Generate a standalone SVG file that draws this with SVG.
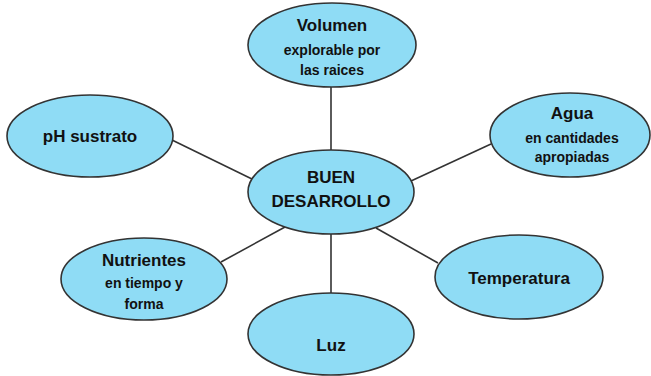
<svg xmlns="http://www.w3.org/2000/svg" width="651" height="376" viewBox="0 0 651 376">
<style>
.n{fill:#8fdcf5;stroke:#333;stroke-width:1.6}
.c{stroke:#333;stroke-width:1.6;fill:none}
text{font-family:"Liberation Sans",Arial,sans-serif;font-weight:bold;fill:#111;text-anchor:middle}
.t{font-size:17px}
.s{font-size:14px}
</style>
<rect width="651" height="376" fill="#fff"/>
<g id="connectors">
<line class="c" x1="331" y1="87" x2="331" y2="150"/>
<line class="c" x1="331" y1="234" x2="331" y2="293"/>
<line class="c" x1="172" y1="140" x2="254" y2="180"/>
<line class="c" x1="491" y1="144" x2="411" y2="181"/>
<line class="c" x1="221" y1="262" x2="285" y2="227"/>
<line class="c" x1="438" y1="263" x2="376" y2="228"/>
</g>
<g id="volumen">
<ellipse class="n" cx="332" cy="45" rx="84" ry="42"/>
<text class="t" x="332" y="31">Volumen</text>
<text class="s" x="332" y="55">explorable por</text>
<text class="s" x="332" y="75">las raices</text>
</g>
<g id="ph">
<ellipse class="n" cx="90" cy="136" rx="83" ry="41"/>
<text class="t" x="90" y="142">pH sustrato</text>
</g>
<g id="agua">
<ellipse class="n" cx="570" cy="135" rx="80" ry="42"/>
<text class="t" x="572" y="119">Agua</text>
<text class="s" x="572" y="143">en cantidades</text>
<text class="s" x="572" y="162">apropiadas</text>
</g>
<g id="centro">
<ellipse class="n" cx="331" cy="192" rx="83" ry="42"/>
<text class="t" x="331" y="183">BUEN</text>
<text class="t" x="331" y="207">DESARROLLO</text>
</g>
<g id="nutrientes">
<ellipse class="n" cx="144" cy="279" rx="83" ry="41"/>
<text class="t" x="144" y="266">Nutrientes</text>
<text class="s" x="144" y="288">en tiempo y</text>
<text class="s" x="144" y="309">forma</text>
</g>
<g id="temperatura">
<ellipse class="n" cx="519" cy="277" rx="84" ry="42"/>
<text class="t" x="519" y="284">Temperatura</text>
</g>
<g id="luz">
<ellipse class="n" cx="331" cy="334" rx="83" ry="41"/>
<text class="t" x="331" y="351">Luz</text>
</g>
</svg>
